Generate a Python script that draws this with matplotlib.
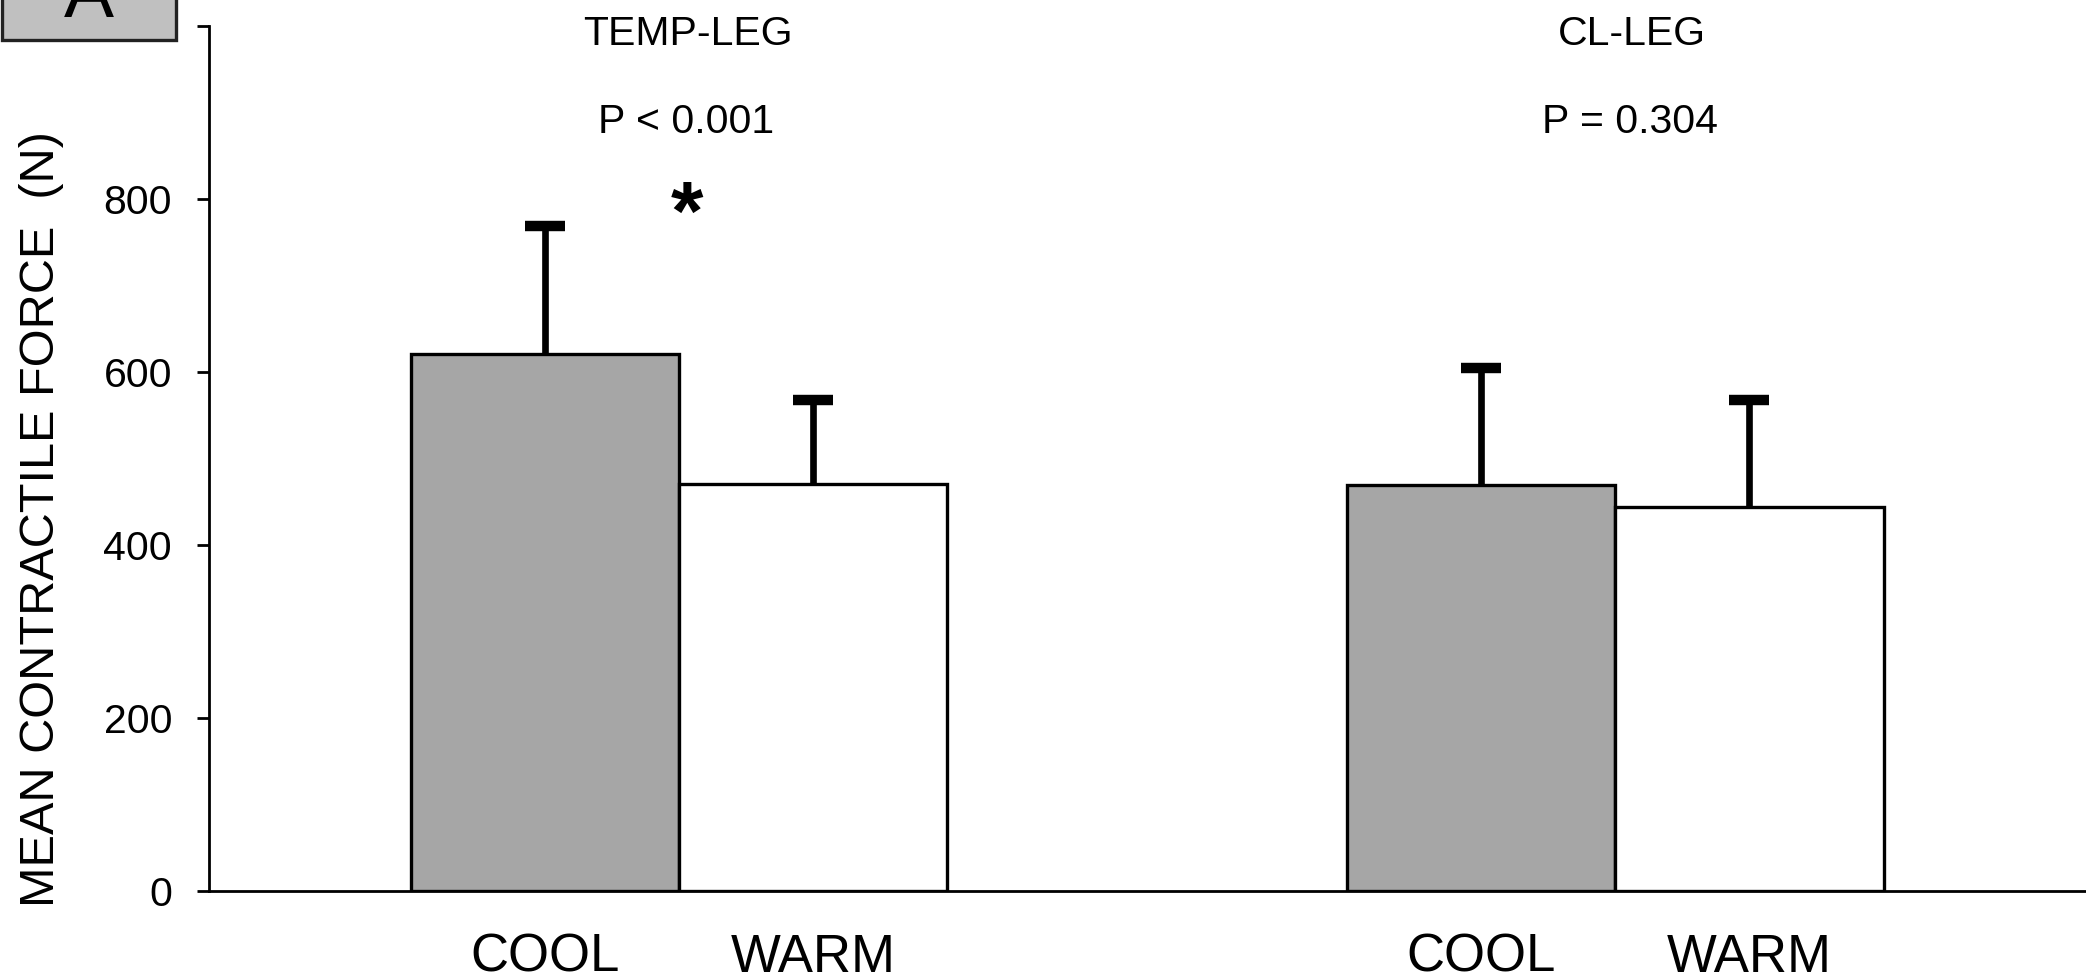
import matplotlib
matplotlib.use('Agg')
import matplotlib.pyplot as plt
from matplotlib.patches import Rectangle

plt.rcParams['font.family'] = ['Liberation Sans', 'DejaVu Sans']

# Mean contractile force (N) and SD for each leg / temperature condition
groups = ['TEMP-LEG', 'CL-LEG']
p_labels = ['P < 0.001', 'P = 0.304']
conditions = ['COOL', 'WARM']
cool_mean = [621, 469]
cool_sd = [148, 136]
warm_mean = [471, 444]
warm_sd = [97, 124]
y_ticks = [0, 200, 400, 600, 800, 1000]
y_tick_labels = ['0', '200', '400', '600', '800', '']

W, H = 2086, 980
fig = plt.figure(figsize=(W / 100, H / 100), dpi=100)

# Axes box in pixel terms
left, right, bottom, top = 209, 2086, 891, 26
ax = fig.add_axes([left / W, 1 - bottom / H, (right - left) / W, (bottom - top) / H])

width = 0.2867
centres = [0, 1]
cool_x = [c - width / 2 for c in centres]
warm_x = [c + width / 2 for c in centres]

ax.bar(cool_x, cool_mean, width, color='#a6a6a6', edgecolor='black', linewidth=2.4, zorder=3)
ax.bar(warm_x, warm_mean, width, color='white', edgecolor='black', linewidth=2.4, zorder=3)

# Upper-only SD bars (lower cap hidden)
err_kw = dict(fmt='none', ecolor='black', elinewidth=4.8, capsize=14.5, capthick=7.5, zorder=2)
for xs, means, sds in [(cool_x, cool_mean, cool_sd), (warm_x, warm_mean, warm_sd)]:
    eb = ax.errorbar(xs, means, yerr=[[0] * len(sds), sds], **err_kw)
    eb[1][0].set_visible(False)

ax.set_xlim(-0.502, 1.503)
ax.set_ylim(0, 1000)

ax.set_yticks(y_ticks)
ax.set_yticklabels(y_tick_labels, fontsize=29.5)
ax.tick_params(axis='y', direction='out', length=8.6, width=2, pad=18)

ax.set_xticks(cool_x + warm_x)
ax.set_xticklabels([conditions[0]] * 2 + [conditions[1]] * 2, fontsize=38)
ax.tick_params(axis='x', length=0, pad=30)

for side in ['top', 'right']:
    ax.spines[side].set_visible(False)
for side in ['left', 'bottom']:
    ax.spines[side].set_linewidth(2)

# Group headings and p-values
for gx, name, p in zip([0.010, 1.018], groups, p_labels):
    ax.text(gx, 978, name, ha='center', va='baseline', fontsize=29.5, clip_on=False)
    ax.text(gx - 0.002, 876, p, ha='center', va='baseline', fontsize=29.5, clip_on=False)

ax.text(0.009, 753, '*', ha='center', va='baseline', fontsize=60, fontweight='bold')

fig.text(42 / W, 1 - 519 / H, 'MEAN CONTRACTILE FORCE  (N)', rotation=90,
         ha='center', va='center', fontsize=35)

# Panel letter box
fig.add_artist(Rectangle((2 / W, 1 - 40 / H), 174 / W, 80 / H, transform=fig.transFigure,
                         facecolor='#c0c0c0', edgecolor='#222222', linewidth=2.4))
fig.text(89 / W, 1 - 17 / H, 'A', ha='center', va='baseline', fontsize=54)

fig.savefig('out.png', dpi=100)
